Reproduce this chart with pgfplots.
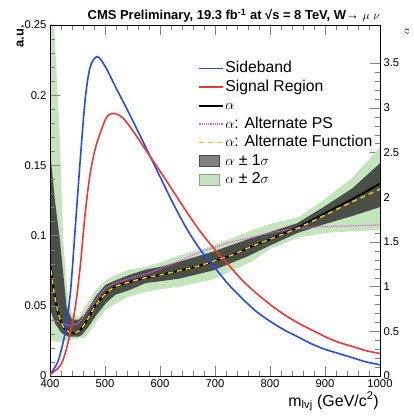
\documentclass[border=0pt]{standalone}
\usepackage{fontspec}
\setmainfont{Liberation Sans}
\usepackage{pgfplots}
\pgfplotsset{compat=1.18}

\definecolor{sbblue}{RGB}{35,75,245}
\definecolor{sigred}{RGB}{240,55,50}
\definecolor{altps}{RGB}{230,90,230}
\definecolor{altfn}{RGB}{245,190,30}
\definecolor{band1}{RGB}{72,80,72}
\definecolor{band2}{RGB}{196,228,190}

\pgfplotsset{
  boxlegend/.style={legend image code/.code={\draw[##1] (0bp,-5.5bp) rectangle (20bp,5.5bp);}},
}

\begin{document}
\begin{tikzpicture}
\path (-50bp,-44bp) rectangle (364bp,376bp);

% alpha, right scale
\begin{axis}[
    scale only axis, width=330bp, height=351bp,
    at={(0,0)}, anchor=south west,
    xmin=400, xmax=1000,
    ymin=0, ymax=3.926,
    hide x axis,
    axis y line*=right,
    tick align=inside,
    major tick length=10bp, minor tick length=5bp,
    ytick={0,0.5,1,1.5,2,2.5,3,3.5},
    yticklabels={\textrm{0},\textrm{0.5},\textrm{1},\textrm{1.5},\textrm{2},\textrm{2.5},\textrm{3},\textrm{3.5}},
    minor y tick num=4,
    tick label style={font=\fontsize{11.3}{13}\selectfont},
]
% alpha +- 2 sigma: upper edge, then lower edge backwards
\addplot[fill=band2, draw=none] coordinates {
 (400,4.6) (409,3.76) (418,2.64) (424,1.52) (433,0.85) (440,0.70) (452,0.66)
 (464,0.78) (483,0.96) (501,1.07) (519,1.13) (544,1.19) (574,1.22) (600,1.27)
 (636,1.35) (696,1.46) (767,1.63) (800,1.70) (853,1.78) (900,1.98) (950,2.22) (1000,2.56)
 (1000,1.63) (950,1.62) (900,1.60) (853,1.55) (800,1.42) (767,1.28) (696,1.08)
 (636,1.00) (600,0.97) (574,0.94) (544,0.89) (519,0.81) (501,0.74) (483,0.60)
 (475,0.52) (464,0.43) (452,0.42) (433,0.40) (415,0.38) (400,0.40)} -- cycle;
% alpha +- 1 sigma
\addplot[fill=band1, draw=none] coordinates {
 (400,2.53) (409,1.96) (418,1.52) (424,1.15) (430,0.78) (440,0.63) (452,0.63)
 (464,0.70) (483,0.89) (501,1.02) (519,1.07) (544,1.13) (574,1.19) (600,1.22)
 (636,1.28) (696,1.39) (760,1.53) (800,1.61) (850,1.71) (900,1.90) (950,2.10) (1000,2.38)
 (1000,1.89) (950,1.79) (900,1.70) (850,1.60) (800,1.46) (760,1.34) (696,1.18)
 (636,1.09) (600,1.06) (574,1.04) (544,0.96) (519,0.91) (501,0.81) (483,0.67)
 (470,0.55) (458,0.46) (452,0.44) (433,0.44) (421,0.48) (409,0.59) (400,0.75)} -- cycle;

% alternate PS
\addplot[altps, line width=1.2bp, densely dotted, smooth] coordinates {
 (400,0.63) (415,0.61) (433,0.57) (452,0.59) (464,0.70) (483,0.85) (501,0.98)
 (519,1.04) (544,1.09) (574,1.14) (600,1.20) (636,1.29) (670,1.38) (700,1.44)
 (730,1.50) (767,1.55) (800,1.60) (850,1.65) (900,1.67) (950,1.68) (1000,1.69)};
% alpha
\addplot[black, line width=2bp, smooth] coordinates {
 (400,1.28) (406,1.00) (412,0.78) (421,0.59) (430,0.51) (440,0.48) (452,0.50)
 (464,0.59) (483,0.79) (501,0.92) (519,1.00) (544,1.05) (574,1.10) (600,1.13)
 (636,1.18) (670,1.23) (700,1.29) (730,1.35) (767,1.45) (800,1.53) (853,1.67)
 (900,1.82) (950,1.98) (1000,2.15)};
% alternate function
\addplot[altfn, line width=1.5bp, dash pattern=on 5bp off 4bp, smooth] coordinates {
 (400,1.28) (406,1.00) (412,0.78) (421,0.59) (430,0.51) (440,0.48) (452,0.50)
 (464,0.59) (483,0.79) (501,0.92) (519,1.00) (544,1.05) (574,1.10) (600,1.13)
 (636,1.18) (670,1.23) (700,1.29) (730,1.35) (767,1.45) (800,1.53) (853,1.66)
 (900,1.80) (950,1.95) (1000,2.09)};
\end{axis}

% a.u., left scale
\begin{axis}[
    scale only axis, width=330bp, height=351bp,
    at={(0,0)}, anchor=south west,
    xmin=400, xmax=1000,
    ymin=0, ymax=0.25,
    tick align=inside,
    major tick length=10bp, minor tick length=5bp,
    ytick pos=left,
    xtick={400,500,...,1000},
    xticklabels={\textrm{400},\textrm{500},\textrm{600},\textrm{700},\textrm{800},\textrm{900},\textrm{1000}},
    minor x tick num=4,
    ytick={0,0.05,0.1,0.15,0.2,0.25},
    yticklabels={\textrm{0},\textrm{0.05},\textrm{0.1},\textrm{0.15},\textrm{0.2},\textrm{0.25}},
    minor y tick num=4,
    tick label style={font=\fontsize{11.3}{13}\selectfont},
    legend image code/.code={\draw[#1] (0bp,0bp) -- (24bp,0bp);},
    legend cell align=left,
    legend style={at={(0.44,0.905)}, anchor=north west, draw=none, fill=none,
      font=\fontsize{15.8}{17}\selectfont, row sep=2.5bp,
      nodes={inner sep=1bp, text height=11bp, text depth=3bp}},
]
\addplot[sbblue, line width=1.6bp, smooth] coordinates {
 (400,0.001) (415,0.011) (427.5,0.031) (437,0.059) (446,0.106) (455,0.154)
 (464,0.197) (473,0.220) (486,0.2275) (501,0.220) (519,0.206) (544,0.187)
 (574,0.163) (600,0.142) (625,0.122) (650,0.104) (675,0.089) (700,0.077)
 (725,0.065) (750,0.055) (775,0.046) (800,0.039) (825,0.033) (850,0.028)
 (875,0.023) (900,0.019) (925,0.016) (950,0.013) (975,0.010) (1000,0.008)};
\addlegendentry{Sideband}
\addplot[sigred, line width=1.6bp, smooth] coordinates {
 (400,0.001) (418,0.007) (427.5,0.016) (437,0.031) (446,0.049) (455,0.078)
 (464,0.116) (473,0.144) (483,0.163) (495,0.177) (504,0.185) (516,0.187)
 (532,0.184) (550,0.175) (574,0.161) (600,0.146) (625,0.131) (650,0.116)
 (675,0.102) (700,0.090) (725,0.079) (750,0.068) (775,0.059) (800,0.051)
 (825,0.044) (850,0.038) (875,0.033) (900,0.028) (925,0.024) (950,0.021)
 (975,0.018) (1000,0.016)};
\addlegendentry{Signal Region}
\addlegendimage{black, line width=2bp}
\addlegendentry{$\alpha$}
\addlegendimage{altps, line width=1.2bp, densely dotted}
\addlegendentry{$\alpha$: Alternate PS}
\addlegendimage{altfn, line width=1.5bp, dash pattern=on 5bp off 4bp}
\addlegendentry{$\alpha$: Alternate Function}
\addlegendimage{boxlegend, fill=black!50, draw=black!70}
\addlegendentry{$\alpha$ ± 1$\sigma$}
\addlegendimage{boxlegend, fill=band2, draw=black!40}
\addlegendentry{$\alpha$ ± 2$\sigma$}
\end{axis}

\node[anchor=base east, inner sep=0, font=\bfseries\fontsize{13}{15}\selectfont]
  at (330bp,356.5bp)
  {CMS Preliminary, 19.3 fb\textsuperscript{-1} at √s = 8 TeV, W→ $\mu$ $\nu$};
\node[rotate=90, anchor=south east, inner sep=0, font=\bfseries\fontsize{13}{15}\selectfont]
  at (-26bp,351bp) {a.u.};
\node[rotate=90, inner sep=0, font=\fontsize{10}{12}\selectfont]
  at (357bp,345bp) {$\alpha$};
\node[anchor=base east, inner sep=0, font=\fontsize{16}{18}\selectfont]
  at (329bp,-30bp) {m\textsubscript{lvj} (GeV/c\textsuperscript{2})};
\end{tikzpicture}
\end{document}
